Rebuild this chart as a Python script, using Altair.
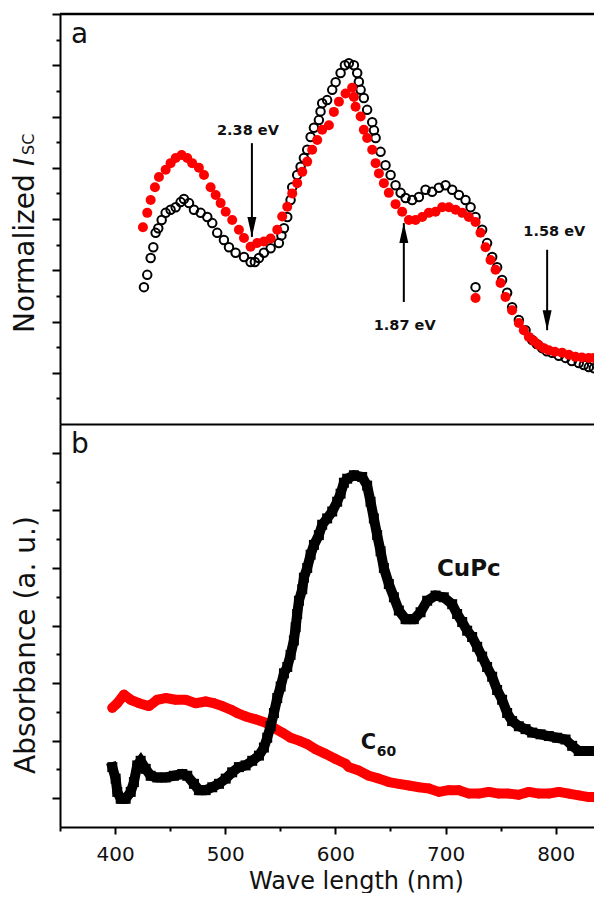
import altair as alt
import pandas as pd

# ---------------- panel a : normalized Isc ----------------
a_black_nm = [426.2, 429.2, 432.3, 434.7, 436.8, 439.2, 442.3, 445.9, 450.4, 455.0,
              459.5, 462.5, 467.1, 471.6, 477.7, 483.7, 488.2, 492.7, 498.8, 503.4,
              509.4, 517.0, 523.0, 526.9, 530.6, 535.1, 541.2, 548.7, 551.0, 553.3,
              556.3, 559.3, 560.8, 565.3, 568.4, 571.4, 574.4, 577.5, 580.5, 585.0,
              586.5, 588.0, 592.5, 597.1, 600.2, 604.7, 608.6, 612.2, 616.8, 619.8,
              621.3, 622.9, 625.8, 628.8, 633.4, 635.0, 636.5, 641.0, 645.5, 650.1,
              654.6, 659.2, 663.7, 669.7, 675.8, 681.8, 687.8, 693.9, 700.0, 706.0,
              712.1, 718.1, 722.7, 727.2, 733.2, 737.7, 742.3, 746.8, 751.3, 755.9,
              760.4, 766.5, 772.6, 778.6, 782.8, 787.6, 791.9, 796.7, 802.8, 808.9,
              814.6, 820.9, 825.5, 830.0, 834.6, 839.1, 727.2]
a_black_val = [2.67, 2.91, 3.24, 3.45, 3.73, 3.82, 3.98, 4.12, 4.18, 4.23,
               4.33, 4.39, 4.31, 4.18, 4.12, 4.04, 3.92, 3.73, 3.59, 3.45,
               3.34, 3.26, 3.16, 3.16, 3.24, 3.34, 3.43, 3.53, 3.68, 3.82,
               4.04, 4.37, 4.62, 4.86, 5.02, 5.19, 5.35, 5.60, 5.78, 5.93,
               6.10, 6.26, 6.32, 6.52, 6.67, 6.85, 7.00, 7.04, 7.00, 6.85,
               6.68, 6.52, 6.36, 6.13, 5.89, 5.73, 5.58, 5.31, 5.05, 4.86,
               4.66, 4.51, 4.41, 4.37, 4.43, 4.57, 4.53, 4.61, 4.66, 4.57,
               4.47, 4.37, 4.23, 4.04, 3.79, 3.53, 3.26, 3.06, 2.81, 2.56,
               2.28, 2.03, 1.83, 1.64, 1.56, 1.48, 1.42, 1.39, 1.33, 1.29,
               1.23, 1.19, 1.15, 1.11, 1.09, 1.09, 2.67]

a_red_nm = [425.3, 429.2, 432.3, 436.2, 439.8, 445.9, 450.4, 455.0, 460.4, 465.5,
            470.0, 476.1, 480.7, 486.7, 491.3, 495.8, 500.4, 506.3, 512.4, 517.0,
            523.0, 529.0, 535.1, 541.2, 547.2, 551.7, 556.3, 560.8, 565.3, 569.9,
            574.4, 578.9, 583.5, 588.0, 594.1, 598.6, 603.2, 609.2, 615.2, 616.8,
            618.3, 622.9, 625.8, 628.8, 633.4, 636.5, 639.5, 644.0, 648.5, 654.6,
            660.6, 666.7, 672.8, 678.8, 684.8, 690.9, 696.9, 703.0, 709.1, 715.1,
            721.1, 727.2, 731.7, 736.3, 740.8, 745.4, 749.9, 754.4, 760.4, 766.5,
            771.0, 775.6, 780.1, 784.6, 789.2, 793.7, 799.2, 805.8, 811.9, 817.9,
            823.7, 830.0, 834.6, 839.1, 727.2]
a_red_val = [3.84, 4.12, 4.37, 4.62, 4.82, 4.96, 5.09, 5.19, 5.25, 5.19,
             5.09, 5.00, 4.86, 4.62, 4.47, 4.31, 4.14, 3.98, 3.79, 3.63,
             3.46, 3.53, 3.56, 3.62, 3.79, 4.05, 4.24, 4.50, 4.70, 4.92,
             5.12, 5.35, 5.54, 5.74, 5.83, 6.09, 6.29, 6.45, 6.56, 6.38,
             6.19, 6.00, 5.74, 5.58, 5.35, 5.09, 4.89, 4.70, 4.51, 4.29,
             4.14, 3.98, 3.98, 4.04, 4.12, 4.14, 4.23, 4.23, 4.18, 4.12,
             4.04, 3.94, 3.73, 3.45, 3.20, 3.01, 2.75, 2.48, 2.22, 1.97,
             1.83, 1.70, 1.62, 1.54, 1.48, 1.44, 1.41, 1.39, 1.35, 1.31,
             1.30, 1.29, 1.29, 1.29, 2.46]

# arrows and energy labels (panel a)
arrow_nm = [524.2, 662.1, 792.2]
arrow_tail = [5.48, 2.38, 3.40]
arrow_tip = [3.65, 3.92, 1.83]
arrow_dir = ["down", "up", "down"]
ev_nm = [520.6, 662.9, 798.7]
ev_val = [5.64, 1.83, 3.66]
ev_text = ["2.38 eV", "1.87 eV", "1.58 eV"]

# ---------------- panel b : absorbance ----------------
b_cupc_nm = [397.5, 400.5, 402.0, 405.1, 409.6, 414.2, 417.1, 420.1, 423.2, 427.8,
             432.3, 438.3, 445.9, 453.4, 461.0, 465.5, 471.6, 476.1, 482.2, 488.2,
             494.3, 500.4, 506.3, 512.4, 518.5, 524.5, 530.6, 535.1, 538.1, 541.2,
             544.2, 547.2, 550.3, 553.3, 556.3, 559.3, 562.3, 563.9, 565.3, 566.9,
             569.9, 571.4, 574.4, 577.5, 580.5, 585.0, 588.0, 592.5, 597.1, 601.6,
             604.7, 607.7, 610.7, 616.8, 624.3, 628.8, 631.9, 634.9, 637.9, 641.0,
             644.0, 648.5, 653.1, 657.6, 663.7, 671.2, 677.3, 683.3, 690.9, 698.4,
             706.0, 710.5, 715.1, 719.6, 724.1, 728.7, 733.2, 737.7, 742.3, 746.8,
             751.3, 755.9, 760.4, 766.5, 772.6, 778.6, 786.2, 793.7, 801.3, 808.9,
             814.9, 820.9, 828.5, 836.1, 841.5]
b_cupc_val = [0.54, 0.34, 0.11, -0.01, -0.01, 0.11, 0.28, 0.57, 0.65, 0.51,
              0.39, 0.36, 0.36, 0.39, 0.42, 0.39, 0.25, 0.14, 0.14, 0.19,
              0.25, 0.34, 0.45, 0.54, 0.57, 0.65, 0.74, 0.88, 1.05, 1.25,
              1.48, 1.74, 1.94, 2.17, 2.28, 2.49, 2.74, 2.97, 3.20, 3.43,
              3.63, 3.83, 4.00, 4.23, 4.40, 4.57, 4.75, 4.86, 4.98, 5.15,
              5.29, 5.48, 5.55, 5.61, 5.58, 5.43, 5.15, 4.86, 4.57, 4.29,
              4.00, 3.72, 3.49, 3.26, 3.11, 3.11, 3.23, 3.43, 3.52, 3.49,
              3.37, 3.20, 3.06, 2.91, 2.80, 2.63, 2.46, 2.28, 2.11, 1.88,
              1.71, 1.48, 1.34, 1.25, 1.20, 1.14, 1.11, 1.08, 1.05, 1.02,
              0.91, 0.82, 0.82, 0.82, 0.85]

b_c60_nm = [397.5, 402.0, 408.1, 414.2, 421.7, 430.8, 438.3, 445.9, 455.0, 464.1,
            473.1, 482.2, 489.7, 497.3, 504.9, 510.9, 518.5, 527.6, 536.7, 544.2,
            551.7, 559.3, 566.9, 574.4, 582.0, 591.1, 600.2, 609.2, 612.2, 621.3,
            630.4, 639.5, 648.5, 657.6, 666.7, 675.8, 684.8, 693.9, 703.0, 712.1,
            721.1, 730.2, 739.3, 748.3, 757.4, 766.5, 775.6, 784.6, 793.7, 802.8,
            811.9, 820.9, 830.0, 839.1]
b_c60_val = [1.57, 1.65, 1.80, 1.71, 1.65, 1.60, 1.71, 1.74, 1.71, 1.71,
             1.65, 1.68, 1.65, 1.60, 1.54, 1.48, 1.42, 1.37, 1.31, 1.22,
             1.14, 1.05, 1.00, 0.94, 0.85, 0.77, 0.68, 0.60, 0.54, 0.48,
             0.39, 0.34, 0.28, 0.25, 0.22, 0.19, 0.17, 0.11, 0.14, 0.14,
             0.08, 0.08, 0.11, 0.08, 0.08, 0.06, 0.11, 0.08, 0.08, 0.11,
             0.08, 0.05, 0.02, 0.02]

b_lab_nm = [721.1, 623.1, 637.6]
b_lab_val = [3.86, 0.855, 0.735]
b_lab_text = ["CuPc", "C", "60"]

x_tick_values = [350, 400, 450, 500, 550, 600, 650, 700, 750, 800]
ya_tick_values = [0.5, 1, 1.5, 2, 2.5, 3, 3.5, 4, 4.5, 5, 5.5, 6, 6.5, 7, 7.5, 8]
yb_tick_values = [0, 0.5, 1, 1.5, 2, 2.5, 3, 3.5, 4, 4.5, 5, 5.5, 6]

assert len(a_black_nm) == len(a_black_val)
assert len(a_red_nm) == len(a_red_val)
assert len(b_cupc_nm) == len(b_cupc_val)
assert len(b_c60_nm) == len(b_c60_val)

FONT = "DejaVu Sans"
W = 542
HA = 410
HB = 403
RED = "#ff0000"

xscale = alt.Scale(domain=[350, 842], nice=False, zero=False)
ya_scale = alt.Scale(domain=[0, 8], nice=False, zero=False)
yb_scale = alt.Scale(domain=[-0.5, 6.5], nice=False, zero=False)

df_ab = pd.DataFrame({"nm": a_black_nm, "v": a_black_val})
df_ar = pd.DataFrame({"nm": a_red_nm, "v": a_red_val})
df_arrow = pd.DataFrame({"nm": arrow_nm, "tail": arrow_tail, "v": arrow_tip, "dir": arrow_dir})
df_ev = pd.DataFrame({"nm": ev_nm, "v": ev_val, "t": ev_text})
df_bc = pd.DataFrame({"nm": b_cupc_nm, "v": b_cupc_val})
df_br = pd.DataFrame({"nm": b_c60_nm, "v": b_c60_val})
df_bl = pd.DataFrame({"nm": b_lab_nm, "v": b_lab_val, "t": b_lab_text})
one = pd.DataFrame({"k": [0]})

minor_major_y = {"condition": {"test": "datum.value % 1 === 0", "value": 8}, "value": 4}
minor_major_x = {"condition": {"test": "datum.value % 100 === 0", "value": 7}, "value": 4}

x_axis_a = alt.Axis(orient="bottom", labels=False, ticks=False, title=None, grid=False,
                    domainColor="black", domainWidth=2)
y_axis_a = alt.Axis(values=ya_tick_values, labels=False, title=None, grid=False,
                    domainColor="black", domainWidth=2, tickColor="black", tickWidth=2,
                    tickSize=minor_major_y)
x_axis_b = alt.Axis(values=x_tick_values, grid=False, domainColor="black", domainWidth=2,
                    tickColor="black", tickWidth=2, tickSize=minor_major_x,
                    labelExpr="datum.value % 100 === 0 ? datum.label : ''",
                    labelFont=FONT, labelFontSize=20, labelColor="#111", labelPadding=10,
                    title="Wave length (nm)", titleFont=FONT, titleFontSize=24,
                    titleFontWeight="normal", titleColor="#111", titleX=296, titleY=61,
                    titleBaseline="alphabetic", titleAlign="center")
y_axis_b = alt.Axis(values=yb_tick_values, labels=False, title=None, grid=False,
                    domainColor="black", domainWidth=2, tickColor="black", tickWidth=2,
                    tickSize=minor_major_y)

XA = alt.X("nm:Q", scale=xscale, axis=x_axis_a)
YA = alt.Y("v:Q", scale=ya_scale, axis=y_axis_a)
XB = alt.X("nm:Q", scale=xscale, axis=x_axis_b)
YB = alt.Y("v:Q", scale=yb_scale, axis=y_axis_b)

DOWN = "M-0.45,-2L0.45,-2L0,0Z"
UP = "M-0.45,2L0.45,2L0,0Z"

# ---- panel a layers
a_black = alt.Chart(df_ab).mark_point(shape="circle", filled=False, color="black",
                                      strokeWidth=2, size=72, opacity=1, clip=True).encode(x=XA, y=YA)
a_red = alt.Chart(df_ar).mark_circle(color=RED, size=100, opacity=1, clip=True).encode(x=XA, y=YA)
a_top = alt.Chart(one).mark_rule(color="black", strokeWidth=2.5).encode(
    x=alt.value(0), x2=alt.value(W), y=alt.value(0))
a_shaft = alt.Chart(df_arrow).mark_rule(color="black", strokeWidth=2).encode(
    x=XA, y=alt.Y("tail:Q", scale=ya_scale, axis=y_axis_a), y2="v:Q")
a_head = alt.Chart(df_arrow).mark_point(filled=True, color="black", size=400, opacity=1).encode(
    x=XA, y=YA,
    shape=alt.Shape("dir:N", scale=alt.Scale(domain=["down", "up"], range=[DOWN, UP]), legend=None))
a_ev = alt.Chart(df_ev).mark_text(font=FONT, fontSize=14.5, fontWeight="bold", color="#111",
                                  align="center", baseline="alphabetic").encode(x=XA, y=YA, text="t:N")
a_letter = alt.Chart(one).mark_text(font=FONT, fontSize=28, color="#111", align="left",
                                    baseline="alphabetic").encode(
    x=alt.value(11), y=alt.value(29), text=alt.value("a"))
a_t1 = alt.Chart(one).mark_text(font=FONT, fontSize=28, color="#111", align="left",
                                baseline="alphabetic", angle=270).encode(
    x=alt.value(-26), y=alt.value(319), text=alt.value("Normalized"))
a_t2 = alt.Chart(one).mark_text(font=FONT, fontSize=28, fontStyle="italic", color="#111",
                                align="left", baseline="alphabetic", angle=270).encode(
    x=alt.value(-26), y=alt.value(152), text=alt.value("I"))
a_t3 = alt.Chart(one).mark_text(font=FONT, fontSize=16, color="#111", align="left",
                                baseline="alphabetic", angle=270).encode(
    x=alt.value(-26), y=alt.value(141), text=alt.value("SC"))

panel_a = alt.layer(a_black, a_red, a_shaft, a_head, a_ev, a_top, a_letter,
                    a_t1, a_t2, a_t3).properties(width=W, height=HA)

# ---- panel b layers
b_red_line = alt.Chart(df_br).mark_line(color=RED, strokeWidth=10, strokeCap="round",
                                        strokeJoin="round", clip=True).encode(x=XB, y=YB)
b_red_pts = alt.Chart(df_br).mark_circle(color=RED, size=95, opacity=1, clip=True).encode(x=XB, y=YB)
b_blk_line = alt.Chart(df_bc).mark_line(color="black", strokeWidth=10, strokeCap="square",
                                        strokeJoin="miter", clip=True).encode(x=XB, y=YB)
b_blk_pts = alt.Chart(df_bc).mark_square(color="black", size=100, opacity=1, clip=True).encode(x=XB, y=YB)
b_cupc = alt.Chart(df_bl).transform_filter("datum.t == 'CuPc'").mark_text(
    font=FONT, fontSize=23, fontWeight="bold", color="#111", align="center",
    baseline="alphabetic").encode(x=XB, y=YB, text="t:N")
b_c = alt.Chart(df_bl).transform_filter("datum.t == 'C'").mark_text(
    font=FONT, fontSize=21, fontWeight="bold", color="#111", align="left",
    baseline="alphabetic").encode(x=XB, y=YB, text="t:N")
b_60 = alt.Chart(df_bl).transform_filter("datum.t == '60'").mark_text(
    font=FONT, fontSize=14, fontWeight="bold", color="#111", align="left",
    baseline="alphabetic").encode(x=XB, y=YB, text="t:N")
b_letter = alt.Chart(one).mark_text(font=FONT, fontSize=28, color="#111", align="left",
                                    baseline="alphabetic").encode(
    x=alt.value(11), y=alt.value(29), text=alt.value("b"))
b_title = alt.Chart(one).mark_text(font=FONT, fontSize=28, color="#111", align="center",
                                   baseline="alphabetic", angle=270).encode(
    x=alt.value(-25), y=alt.value(221), text=alt.value("Absorbance (a. u.)"))

panel_b = alt.layer(b_red_line, b_red_pts, b_blk_line, b_blk_pts, b_cupc, b_c, b_60,
                    b_letter, b_title).properties(width=W, height=HB)

# the original figure is cropped on its right edge
chart = alt.vconcat(panel_a, panel_b, spacing=0, bounds="flush").properties(
    padding={"left": 4, "top": 4, "right": -10, "bottom": 0},
    background="white",
).configure_view(stroke=None)

chart.save("out.html", embed_options={"renderer": "svg", "actions": False})
